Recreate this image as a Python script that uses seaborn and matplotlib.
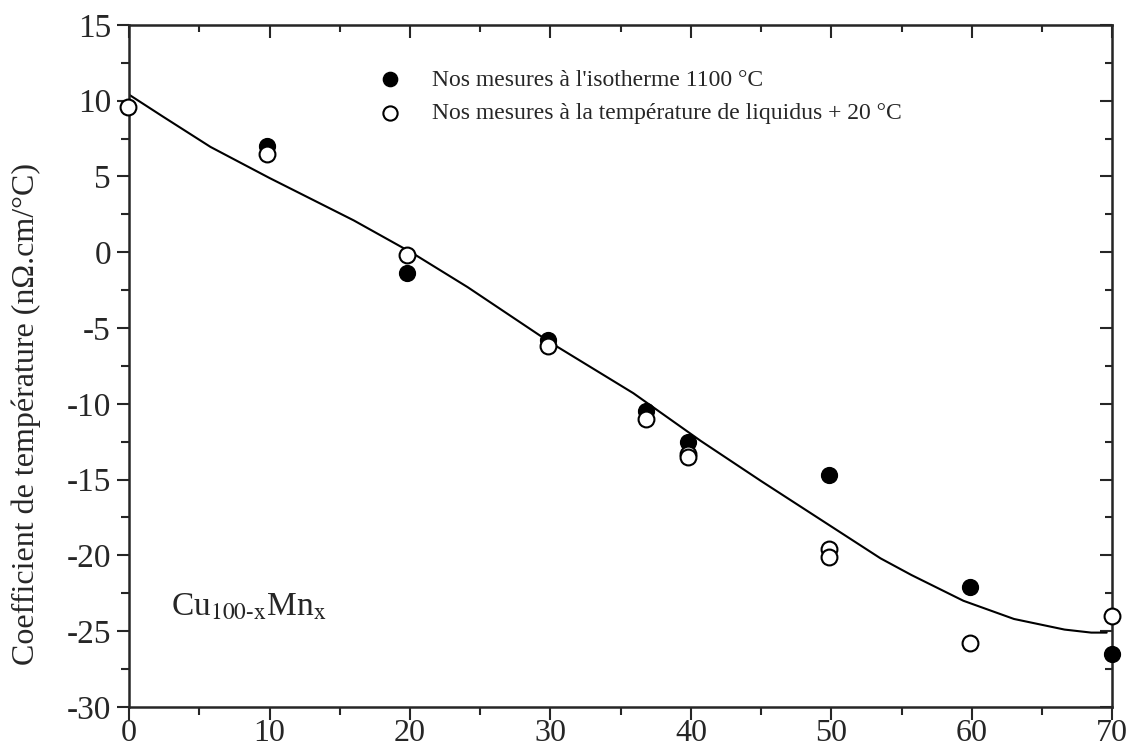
import numpy as np
import pandas as pd
import matplotlib
matplotlib.use("Agg")
import matplotlib.pyplot as plt
from matplotlib.ticker import MultipleLocator
import seaborn as sns

# --- data ---
x_iso = [9.8, 19.8, 29.8, 36.8, 39.8, 49.8, 59.9, 70.0]
y_iso = [7.0, -1.4, -5.8, -10.5, -12.5, -14.7, -22.1, -26.5]

x_liq = [-0.1, 9.8, 19.8, 29.8, 36.8, 39.8, 39.8, 49.8, 49.8, 59.9, 70.0]
y_liq = [9.6, 6.5, -0.2, -6.2, -11.0, -13.3, -13.5, -19.6, -20.1, -25.8, -24.0]

x_fit = [0, 2.4, 5.8, 10, 16, 20.2, 24.1, 30, 35.9, 40.7, 45, 49.75, 53.5, 55.7, 59.4, 63, 66.6, 68.5, 69.6]
y_fit = [10.4, 8.96, 6.95, 4.9, 2.1, -0.07, -2.3, -5.96, -9.3, -12.45, -15.1, -17.95, -20.2, -21.3, -23.0, -24.2, -24.9, -25.1, -25.1]

label_iso = "Nos mesures à l'isotherme 1100 °C"
label_liq = "Nos mesures à la température de liquidus + 20 °C"

iso_df = pd.DataFrame({"x": x_iso, "y": y_iso})
liq_df = pd.DataFrame({"x": x_liq, "y": y_liq})
fit_df = pd.DataFrame({"x": x_fit, "y": y_fit})

# --- style ---
sns.set_style("ticks")
plt.rcParams["font.family"] = ["Liberation Serif", "DejaVu Serif"]
plt.rcParams["mathtext.fontset"] = "stix"
plt.rcParams["axes.unicode_minus"] = False

fig = plt.figure(figsize=(11.42, 7.56), dpi=100)
ax = fig.add_axes([0.113, 0.065, 0.861, 0.902])

sns.lineplot(data=fit_df, x="x", y="y", ax=ax, color="black", lw=1.5,
             sort=False, estimator=None)
sns.scatterplot(data=iso_df, x="x", y="y", ax=ax, color="black", s=130,
                edgecolor="black", linewidth=1.0, label=label_iso, zorder=4,
                clip_on=False)
sns.scatterplot(data=liq_df, x="x", y="y", ax=ax, facecolor="white", s=130,
                edgecolor="black", linewidth=1.5, label=label_liq, zorder=5,
                clip_on=False)

ax.set_xlim(0, 70)
ax.set_ylim(-30, 15)
ax.xaxis.set_major_locator(MultipleLocator(10))
ax.xaxis.set_minor_locator(MultipleLocator(5))
ax.yaxis.set_major_locator(MultipleLocator(5))
ax.yaxis.set_minor_locator(MultipleLocator(2.5))
ax.tick_params(which="major", direction="out", length=9, width=1.5,
               labelsize=24, pad=4)
ax.tick_params(axis="x", which="major", pad=0, labelsize=23)
ax.tick_params(which="minor", direction="out", length=6, width=1.5)

for s in ax.spines.values():
    s.set_visible(True)
    s.set_linewidth(1.8)

# inward ticks on top and right
top = ax.secondary_xaxis("top")
top.xaxis.set_major_locator(MultipleLocator(10))
top.xaxis.set_minor_locator(MultipleLocator(5))
top.tick_params(which="major", direction="in", length=9, width=1.5, labeltop=False)
top.tick_params(which="minor", direction="in", length=5, width=1.5)
right = ax.secondary_yaxis("right")
right.yaxis.set_major_locator(MultipleLocator(5))
right.yaxis.set_minor_locator(MultipleLocator(2.5))
right.tick_params(which="major", direction="in", length=9, width=1.5, labelright=False)
right.tick_params(which="minor", direction="in", length=5, width=1.5)

ax.set_xlabel("")
ax.set_ylabel("Coefficient de température (nΩ.cm/°C)", fontsize=23)
ax.yaxis.set_label_coords(-0.09, 0.43)

ax.text(3.0, -23.4, r"Cu$_{\mathrm{100\text{-}x}}$Mn$_{\mathrm{x}}$", fontsize=24,
        va="center", ha="left")

ax.legend(loc="upper left", bbox_to_anchor=(0.244, 0.949), frameon=False,
          fontsize=17, handletextpad=1.25, labelspacing=0.5, borderaxespad=0,
          handlelength=1.0, markerscale=0.9)

fig.savefig("out.png", dpi=100)
